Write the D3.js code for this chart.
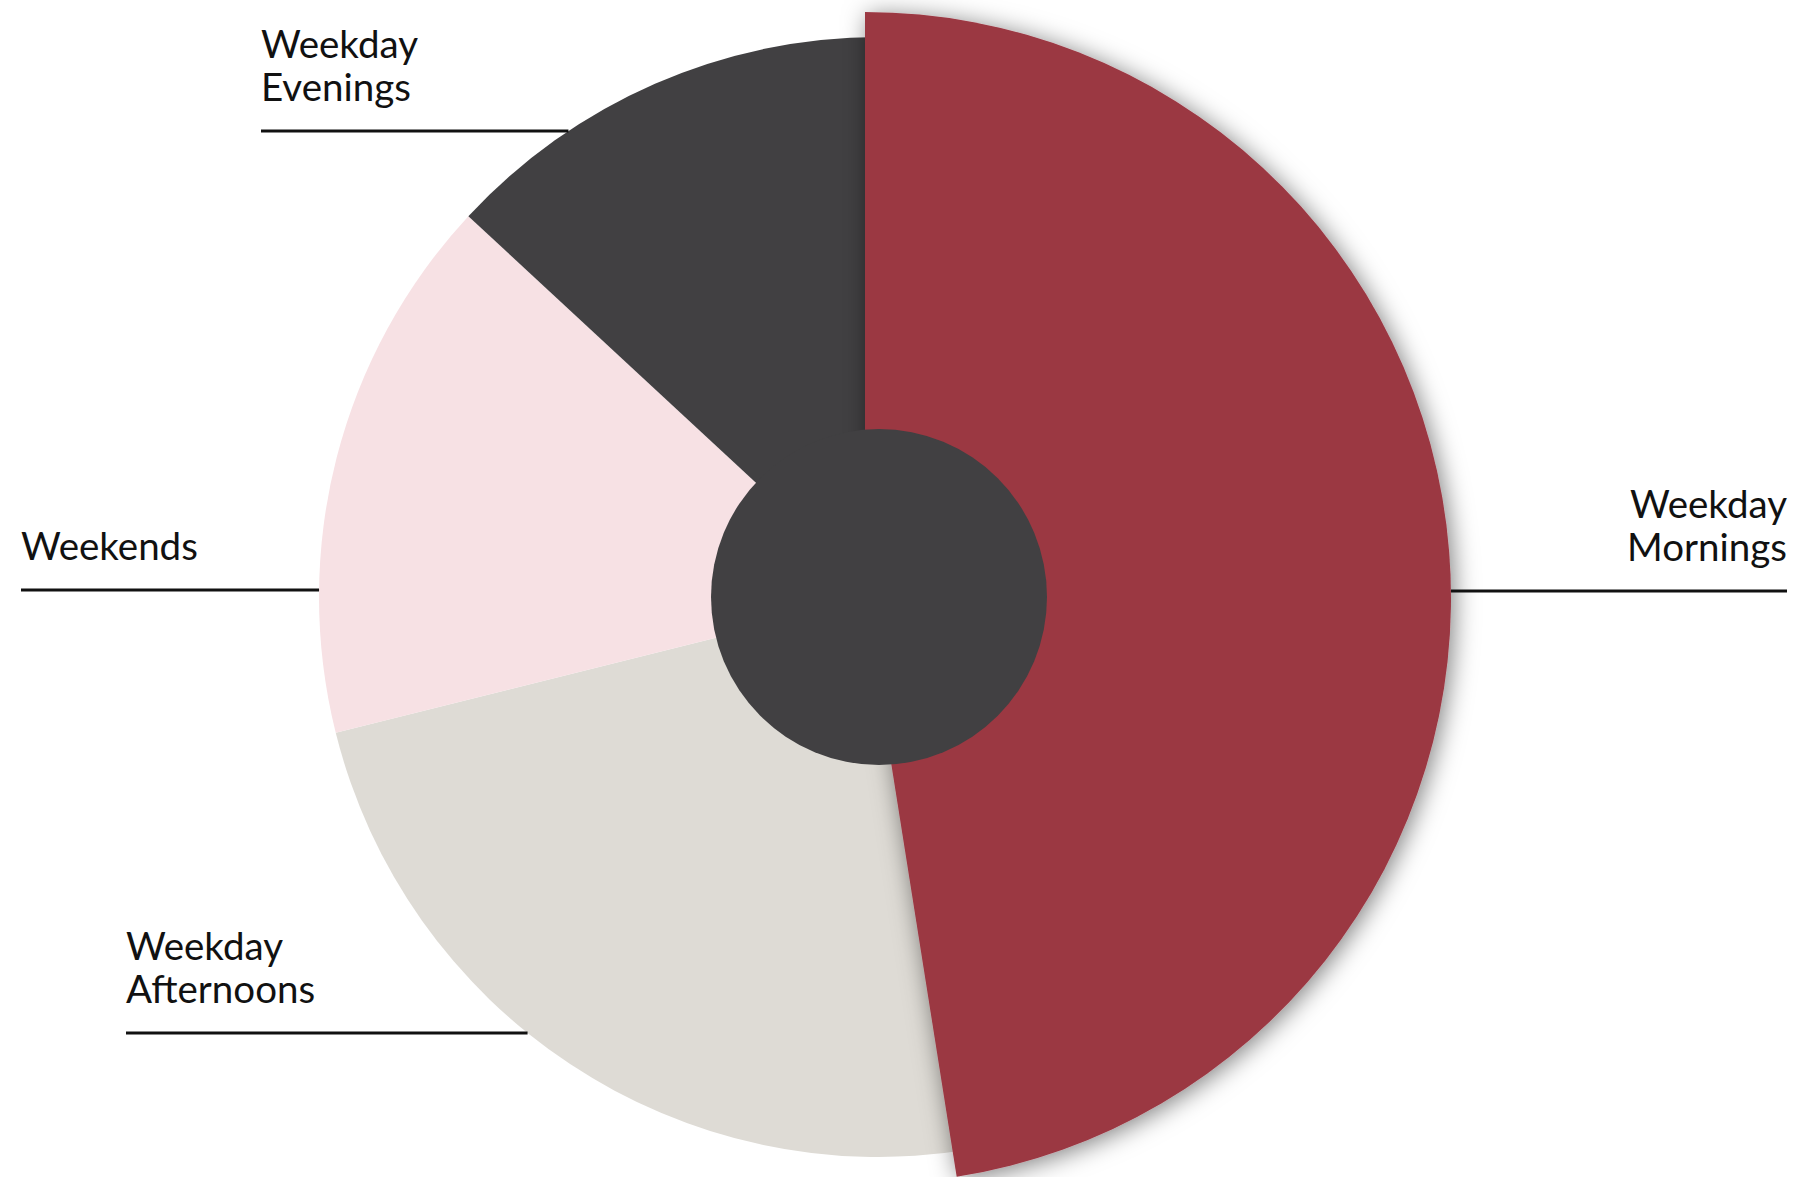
<!DOCTYPE html>
<html>
<head>
<meta charset="utf-8">
<script src="https://cdn.jsdelivr.net/npm/d3@7/dist/d3.min.js"></script>
<style>
  html, body { margin: 0; padding: 0; background: #ffffff; }
  svg { display: block; }
  .label { font-family: Lato, "Open Sans", sans-serif; font-size: 38.5px; fill: #111111; }
</style>
</head>
<body>
<svg id="chart" width="1819" height="1177"></svg>
<script>
// Share of visits by time slot (percent), clockwise from 12 o'clock
const categories = ["Weekday Mornings", "Weekday Afternoons", "Weekends", "Weekday Evenings"];
const shares = [47.5, 23.6, 15.8, 13.1];
const labelLines = [["Weekday", "Mornings"], ["Weekday", "Afternoons"], ["Weekends"], ["Weekday", "Evenings"]];
const colors = ["#9b3743", "#dedbd5", "#f7e1e4", "#414042"];

// Layout
const W = 1819, H = 1177;
const cx = 879, cy = 597;
const radius = 560;
const holeRadius = 168;
const highlight = { index: 0, radius: 586, dx: -14, dy: 1 };
const lineHeight = 43;
// Label placement: leader line height, text anchor side and the x where the text sits
const labelLayout = [
  { y: 591, side: "right", x: 1787 },
  { y: 1033, side: "left", x: 126 },
  { y: 590, side: "left", x: 21 },
  { y: 131, side: "left", x: 261 }
];

const svg = d3.select("#chart");
const defs = svg.append("defs");
const shadow = defs.append("filter").attr("id", "sliceShadow")
  .attr("x", "-20%").attr("y", "-20%").attr("width", "140%").attr("height", "140%");
shadow.append("feDropShadow")
  .attr("dx", 3).attr("dy", 3).attr("stdDeviation", 12)
  .attr("flood-color", "#000").attr("flood-opacity", 0.5);

const data = categories.map((c, i) => ({ name: c, value: shares[i], color: colors[i], lines: labelLines[i] }));
const pie = d3.pie().value(d => d.value).sort(null);
const arcs = pie(data);
const arc = d3.arc().innerRadius(0).outerRadius(radius);
const bigArc = d3.arc().innerRadius(0).outerRadius(highlight.radius);

const g = svg.append("g").attr("transform", `translate(${cx},${cy})`);

// regular slices
g.selectAll("path.slice")
  .data(arcs.filter(a => a.index !== highlight.index))
  .join("path")
  .attr("class", "slice")
  .attr("d", arc)
  .attr("fill", d => d.data.color);

// emphasised slice, enlarged and lifted with a shadow
const hi = arcs.find(a => a.index === highlight.index);
g.append("path")
  .attr("d", bigArc(hi))
  .attr("fill", hi.data.color)
  .attr("transform", `translate(${highlight.dx},${highlight.dy})`)
  .attr("filter", "url(#sliceShadow)");

// centre disc
g.append("circle").attr("r", holeRadius).attr("fill", colors[3]);

// labels with horizontal leader lines running to the pie edge
const labels = svg.append("g");
arcs.forEach((a, i) => {
  const L = labelLayout[i];
  const isHi = a.index === highlight.index;
  const R = isHi ? highlight.radius : radius;
  const ox = cx + (isHi ? highlight.dx : 0);
  const oy = cy + (isHi ? highlight.dy : 0);
  const dy = L.y - oy;
  const half = Math.sqrt(Math.max(0, R * R - dy * dy));
  const edgeX = L.side === "right" ? ox + half : ox - half;
  labels.append("line")
    .attr("x1", L.x).attr("x2", edgeX)
    .attr("y1", L.y).attr("y2", L.y)
    .attr("stroke", "#111").attr("stroke-width", 3);
  const lines = a.data.lines;
  const t = labels.append("text").attr("class", "label")
    .attr("text-anchor", L.side === "right" ? "end" : "start");
  lines.forEach((s, k) => {
    t.append("tspan")
      .attr("x", L.x)
      .attr("y", L.y - 30 - (lines.length - 1 - k) * lineHeight)
      .text(s);
  });
});
</script>
</body>
</html>
